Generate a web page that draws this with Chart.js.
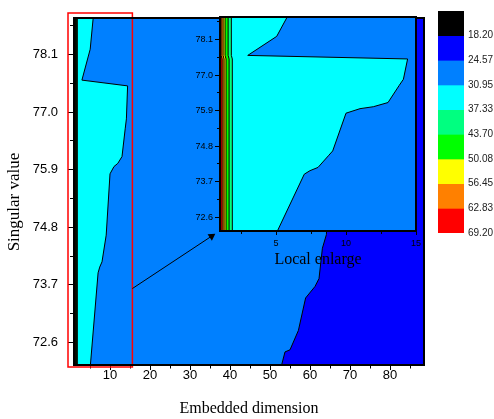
<!DOCTYPE html>
<html>
<head>
<meta charset="utf-8">
<script src="https://cdn.jsdelivr.net/npm/chart.js@4.4.1/dist/chart.umd.min.js"></script>
<style>
  html, body { margin: 0; padding: 0; background: #fff; }
  #wrap { position: relative; width: 494px; height: 419px; overflow: hidden; }
  canvas { position: absolute; }
  #main { left: 0; top: 0; }
  #inset { left: 180px; top: 0; }
  #cbar { left: 430px; top: 0; }
</style>
</head>
<body>
<div id="wrap">
  <canvas id="main" width="494" height="419"></canvas>
  <canvas id="inset" width="245" height="275"></canvas>
  <canvas id="cbar" width="64" height="245"></canvas>
</div>
<script>
// axis ranges
const xRange = [1, 88.5];
const xRangeZoom = [1, 15];
const yRange = [72.17, 78.8];

// contour levels and colours, colour bar top -> bottom
const levels = [11.83, 18.20, 24.57, 30.95, 37.33, 43.70, 50.08, 56.45, 62.83, 69.20];
const levelColors = ['#000000', '#0000ff', '#0080ff', '#00ffff', '#00ff80', '#00ff00', '#ffff00', '#ff8000', '#ff0000'];

// contour lines, bottom -> top (x = embedded dimension, y = singular value)
const c2457x = [52.9, 53.75, 55.0, 57.1, 58.9, 61.25, 62.25, 63.1, 64.1, 65.2, 66.3];
const c2457y = [72.17, 72.42, 72.46, 72.83, 73.45, 73.67, 73.82, 74.40, 74.66, 76.5, 78.8];
const c3095x = [5.1, 7.02, 7.43, 8.0, 8.74, 9.05, 10.0, 11.0, 11.95, 13.0, 13.8, 14.1, 14.4, 2.98, 5.05, 5.8];
const c3095y = [72.17, 73.93, 74.04, 74.14, 74.5, 74.65, 75.82, 75.96, 76.02, 76.15, 76.68, 76.87, 77.5, 77.61, 78.2, 78.8];
// steep contours close to x = 1
const bandY = [72.17, 77.5, 77.61, 78.8];
const c3733x = [1.88, 1.88, 1.81, 1.81];
const c4370x = [1.65, 1.65, 1.58, 1.58];
const c5008x = [1.43, 1.43, 1.36, 1.36];
const c5645x = [1.29, 1.29, 1.22, 1.22];
const c6283x = [1.15, 1.15, 1.08, 1.08];

// ticks
const xTicks = [5, 10, 15, 20, 25, 30, 35, 40, 45, 50, 55, 60, 65, 70, 75, 80, 85];
const xLabels = [10, 20, 30, 40, 50, 60, 70, 80];
const xTicksZoom = [2.5, 5, 7.5, 10, 12.5, 15];
const xLabelsZoom = [5, 10, 15];
const yTicks = [72.6, 73.15, 73.7, 74.25, 74.8, 75.35, 75.9, 76.45, 77.0, 77.55, 78.1, 78.65];
const yLabels = [72.6, 73.7, 74.8, 75.9, 77.0, 78.1];

// red box round the enlarged part, and the arrow to the inset
const boxX = [-0.5, 15.6];
const boxY = [72.13, 78.89];
const arrowX = [15.6, 35.4];
const arrowY = [73.63, 74.63];

Chart.defaults.font.family = "'Liberation Sans', Arial, sans-serif";
Chart.defaults.color = '#000';

const tickFamily = "'Liberation Sans', Arial, sans-serif";
const serif = "'Liberation Serif', 'Times New Roman', serif";
const isIn = (v, list) => list.some(m => Math.abs(m - v) < 1e-6);
const pts = (xs, ys) => xs.map((x, i) => ({x: x, y: ys[i]}));

function region(xs, ys, color) {
  return {
    data: [{x: xRange[0], y: yRange[0]}, ...pts(xs, ys), {x: xRange[0], y: yRange[1]}],
    backgroundColor: color, borderColor: '#000', borderWidth: 1, fill: 'shape'
  };
}

function contourSets() {
  const base = {
    data: [{x: xRange[0], y: yRange[0]}, {x: xRange[1], y: yRange[0]},
           {x: xRange[1], y: yRange[1]}, {x: xRange[0], y: yRange[1]}],
    backgroundColor: levelColors[1], borderWidth: 0, fill: 'shape'
  };
  return [
    base,
    region(c2457x, c2457y, levelColors[2]),
    region(c3095x, c3095y, levelColors[3]),
    region(c3733x, bandY, levelColors[4]),
    region(c4370x, bandY, levelColors[5]),
    region(c5008x, bandY, levelColors[6]),
    region(c5645x, bandY, levelColors[7]),
    region(c6283x, bandY, levelColors[8])
  ];
}

function finish(sets) {
  // first in list is lowest layer
  sets.forEach((d, i) => {
    d.order = sets.length - i;
    d.pointRadius = d.pointRadius ?? 0;
    d.tension = 0;
  });
  return sets;
}

function frame(pos, size) {
  return {
    type: 'linear', position: pos, display: true, min: 0, max: 1,
    ticks: {display: false}, grid: {display: false, drawTicks: false},
    border: {color: '#000', width: 2, z: 1},
    afterFit: s => { if (pos === 'top' || pos === 'bottom') s.height = size; else s.width = size; }
  };
}

function bottomAxis(range, ticks, labels, o) {
  return {
    type: 'linear', position: 'bottom', min: range[0], max: range[1],
    afterBuildTicks: s => { s.ticks = ticks.map(v => ({value: v})); },
    afterFit: s => { s.height = o.height; },
    ticks: {font: {family: tickFamily, size: o.font}, color: '#000', padding: o.pad,
            maxRotation: 0, autoSkip: false, callback: v => isIn(v, labels) ? String(v) : ''},
    grid: {drawOnChartArea: false, tickLength: o.tl, tickColor: '#000', tickWidth: 1,
           tickBorderDash: c => (c.tick && !isIn(c.tick.value, labels)) ? [o.minor, 99] : []},
    border: {color: '#000', width: 2, z: 1},
    title: {display: true, text: o.title, color: '#000', font: {family: serif, size: 16},
            padding: {top: 0, bottom: o.titlePad}}
  };
}

function leftAxis(o) {
  const ax = {
    type: 'linear', position: 'left', min: yRange[0], max: yRange[1],
    afterBuildTicks: s => { s.ticks = yTicks.map(v => ({value: v})); },
    afterFit: s => { s.width = o.width; },
    ticks: {font: {family: tickFamily, size: o.font}, color: '#000', padding: o.pad, autoSkip: false,
            callback: v => isIn(v, yLabels) ? v.toFixed(1) : ''},
    grid: {drawOnChartArea: false, tickLength: o.tl, tickColor: '#000', tickWidth: 1,
           tickBorderDash: c => (c.tick && !isIn(c.tick.value, yLabels)) ? [0, o.tl - 1 - o.minor, o.minor, 99] : []},
    border: {color: '#000', width: 2, z: 1}
  };
  if (o.title) {
    ax.title = {display: true, text: o.title, color: '#000', font: {family: serif, size: 17},
                padding: {top: 4, bottom: 0}};
  }
  return ax;
}

const common = {
  responsive: false, animation: false, events: [],
  layout: {padding: 0},
  plugins: {legend: {display: false}, tooltip: {enabled: false}}
};

// main contour plot
const mainSets = contourSets();
mainSets.push({
  data: [{x: boxX[0], y: boxY[0]}, {x: boxX[1], y: boxY[0]}, {x: boxX[1], y: boxY[1]},
         {x: boxX[0], y: boxY[1]}, {x: boxX[0], y: boxY[0]}],
  borderColor: '#ff0000', borderWidth: 1.5, fill: false, clip: false, borderCapStyle: 'square'
});
mainSets.push({
  data: pts(arrowX, arrowY),
  borderColor: '#000', borderWidth: 1, fill: false, clip: false,
  pointRadius: c => c.dataIndex === 1 ? 4.5 : 0,
  pointStyle: 'triangle', pointRotation: 56,
  pointBackgroundColor: '#000', pointBorderColor: '#000', pointBorderWidth: 0
});

new Chart(document.getElementById('main'), {
  type: 'line',
  data: {datasets: finish(mainSets)},
  options: {
    ...common,
    scales: {
      x: bottomAxis(xRange, xTicks, xLabels, {height: 54, font: 13, pad: -2, tl: 5, minor: 2.5,
                                             title: 'Embedded dimension', titlePad: 1}),
      y: leftAxis({width: 74, font: 13, pad: 10, tl: 6, minor: 3,
                   title: 'Singular value\u00a0\u00a0\u00a0\u00a0\u00a0'}),
      x2: frame('top', 12),
      y2: frame('right', 70)
    }
  }
});

// local enlarge inset
new Chart(document.getElementById('inset'), {
  type: 'line',
  data: {datasets: finish(contourSets())},
  options: {
    ...common,
    scales: {
      x: bottomAxis(xRangeZoom, xTicksZoom, xLabelsZoom, {height: 44, font: 9, pad: 3, tl: 4, minor: 2,
                                                        title: 'Local enlarge', titlePad: 6}),
      y: leftAxis({width: 40, font: 9, pad: 2, tl: 5, minor: 2}),
      x2: frame('top', 17),
      y2: frame('right', 9)
    }
  }
});

// colour bar
new Chart(document.getElementById('cbar'), {
  type: 'bar',
  data: {
    labels: [''],
    datasets: levelColors.map((c, i) => ({
      data: [[levels[i], levels[i + 1]]], backgroundColor: c, borderWidth: 0,
      grouped: false, barPercentage: 1, categoryPercentage: 1
    }))
  },
  options: {
    ...common,
    layout: {padding: {left: 8, top: 11, bottom: 12, right: 0}},
    scales: {
      x: {display: false},
      y: {
        position: 'right', reverse: true, min: levels[0], max: levels[levels.length - 1],
        afterBuildTicks: s => { s.ticks = levels.slice(1).map(v => ({value: v})); },
        afterFit: s => { s.width = 30; },
        grid: {display: false, drawTicks: false}, border: {display: false},
        ticks: {padding: 4, color: '#222', autoSkip: false, font: {size: 10},
                callback: v => v.toFixed(2)}
      }
    }
  }
});
</script>
</body>
</html>
